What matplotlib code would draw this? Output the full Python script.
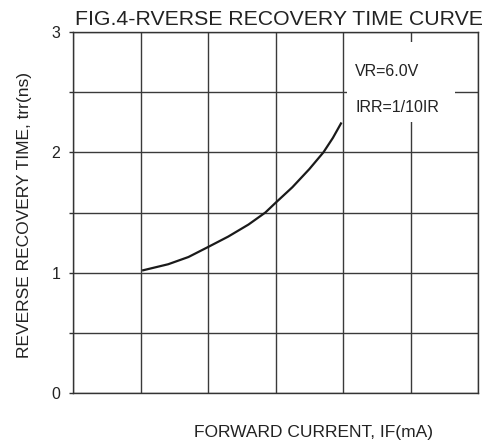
import matplotlib
matplotlib.use("Agg")
import matplotlib.pyplot as plt
from matplotlib.patches import Rectangle

plt.rcParams['font.family'] = ['Liberation Sans', 'DejaVu Sans']

# curve (x in grid columns, y in ns)
if_pos = [1.04, 1.41, 1.71, 1.99, 2.30, 2.60, 2.85, 3.0, 3.25, 3.50, 3.71, 3.85, 3.97]
trr_ns = [1.02, 1.07, 1.13, 1.21, 1.30, 1.40, 1.50, 1.58, 1.71, 1.86, 2.0, 2.12, 2.24]

y_ticks = [0, 1, 2, 3]
note_lines = ["VR=6.0V", "IRR=1/10IR"]

fig = plt.figure(figsize=(4.91, 4.44), dpi=100)
ax = fig.add_axes([73/491, 51/444, 405/491, 361/444])

ax.set_xlim(0, 6)
ax.set_ylim(0, 3)
ax.set_xticks([0, 1, 2, 3, 4, 5, 6])
ax.set_yticks([0, 0.5, 1, 1.5, 2, 2.5, 3])
ax.set_yticklabels(["0", "", "1", "", "2", "", "3"], fontsize=11.5, color="#222222")
ax.tick_params(axis='x', length=0, labelbottom=False)
ax.tick_params(axis='y', length=3, width=1, color="#333333", pad=6)
ax.grid(True, color="#3a3a3a", linewidth=1.0)
ax.set_axisbelow(True)
for s in ax.spines.values():
    s.set_color("#333333")
    s.set_linewidth(1.0)

ax.plot(if_pos, trr_ns, color="#1a1a1a", linewidth=1.6, zorder=3,
        solid_joinstyle="round")

# white note box covering the grid
ax.add_patch(Rectangle((4.06, 2.25), 1.6, 0.67, facecolor="white",
                       edgecolor="none", zorder=2))
ax.text(4.18, 2.675, note_lines[0], fontsize=11.5, va="center", ha="left",
        color="#222222", zorder=4)
ax.text(4.18, 2.375, note_lines[1], fontsize=11.5, va="center", ha="left",
        color="#222222", zorder=4)

fig.text(279/491, 1 - 19.5/444, "FIG.4-RVERSE RECOVERY TIME CURVE",
         fontsize=15.3, ha="center", va="center", color="#222222")
fig.text(25/491, 1 - 215/444, "REVERSE RECOVERY TIME, trr(ns)",
         fontsize=12.5, rotation=90, ha="center", va="center", color="#222222")
fig.text(313/491, 1 - 432/444, "FORWARD CURRENT, IF(mA)",
         fontsize=12.5, ha="center", va="center", color="#222222")

fig.savefig("out.png", dpi=100)
